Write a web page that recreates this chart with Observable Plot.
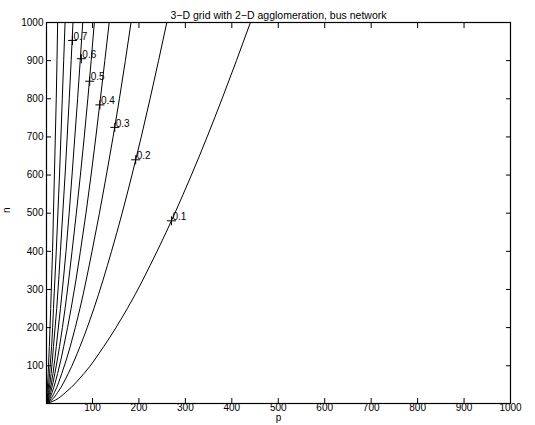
<!DOCTYPE html>
<html>
<head>
<meta charset="utf-8">
<script src="https://cdn.jsdelivr.net/npm/d3@7"></script>
<script src="https://cdn.jsdelivr.net/npm/@observablehq/plot@0.6"></script>
<style>
  html, body { margin: 0; padding: 0; background: #fff; }
  svg { display: block; }
</style>
</head>
<body>
<div id="chart"></div>
<script>
// contour levels
const levels = [0.1, 0.2, 0.3, 0.4, 0.5, 0.6, 0.7, 0.8, 0.9];
// n values at which the contour positions were read
const nValues = [1000, 800, 600, 400, 250, 150, 80, 30, 10, 0];
// p position of each contour at the n values above
const p01 = [440, 379, 313, 239, 175, 124, 82, 42, 20, 0];
const p02 = [260, 224, 185, 141, 103, 73, 48, 25, 12, 0];
const p03 = [183, 158, 130, 99, 73, 52, 34, 18, 8.5, 0];
const p04 = [136, 117, 97, 74, 54, 38, 25, 13, 6.3, 0];
const p05 = [104, 90, 74, 56, 41, 29, 19, 10, 4.8, 0];
const p06 = [79, 68, 56, 43, 31, 22, 15, 7.6, 3.7, 0];
const p07 = [58, 50, 41, 31, 23, 16, 11, 5.6, 2.7, 0];
const p08 = [41, 35, 29, 22, 16, 12, 7.6, 4.0, 1.9, 0];
const p09 = [25, 22, 18, 14, 10, 7.1, 4.6, 2.4, 1.2, 0];
const pSeries = [p01, p02, p03, p04, p05, p06, p07, p08, p09];

// contour labels (clabel) positions
const labelText = ["0.1", "0.2", "0.3", "0.4", "0.5", "0.6", "0.7"];
const labelP = [270, 193, 148, 116, 94, 76, 57];
const labelN = [480, 640, 725, 784, 846, 905, 953];

const xTicks = [100, 200, 300, 400, 500, 600, 700, 800, 900, 1000];
const yTicks = [100, 200, 300, 400, 500, 600, 700, 800, 900, 1000];

const title = "3\u2212D grid with 2\u2212D agglomeration, bus network";

const lineData = [];
levels.forEach((lv, i) => {
  nValues.forEach((n, j) => lineData.push({level: lv, p: pSeries[i][j], n}));
});
const labels = labelText.map((t, i) => ({t, p: labelP[i], n: labelN[i]}));

const font = "'Liberation Sans', Arial, Helvetica, sans-serif";
const fmt = d => String(d);

const chart = Plot.plot({
  width: 535,
  height: 425,
  marginLeft: 46,
  marginRight: 25,
  marginTop: 22,
  marginBottom: 22,
  style: {fontFamily: font, fontSize: "10px", background: "#fff", color: "#000"},
  x: {domain: [1, 1000]},
  y: {domain: [1, 1000]},
  marks: [
    Plot.line(lineData, {x: "p", y: "n", z: "level", stroke: "#000", strokeWidth: 1, curve: "monotone-y", clip: true}),
    Plot.dot(labels, {x: "p", y: "n", symbol: "plus", r: 3, stroke: "#000", strokeWidth: 1}),
    Plot.text(labels, {x: "p", y: "n", text: "t", textAnchor: "start", dx: 1, dy: -4, fontSize: 10, fill: "#000"}),
    Plot.frame({stroke: "#000", strokeWidth: 1.2}),
    Plot.axisX(xTicks, {anchor: "bottom", tickSize: -5, tickPadding: 5, fontSize: 10, tickFormat: fmt, label: null}),
    Plot.axisX(xTicks, {anchor: "top", tickSize: -5, tickFormat: () => "", label: null}),
    Plot.axisY(yTicks, {anchor: "left", tickSize: -5, tickPadding: 8, fontSize: 10, tickFormat: fmt, label: null}),
    Plot.axisY(yTicks, {anchor: "right", tickSize: -5, tickFormat: () => "", label: null}),
    Plot.text([title], {frameAnchor: "top", dy: -11, text: d => d, fontSize: 10.5, fill: "#000"}),
    Plot.text(["p"], {frameAnchor: "bottom", dy: 17, text: d => d, fontSize: 10, fill: "#000"}),
    Plot.text(["n"], {frameAnchor: "left", dx: -40, rotate: -90, text: d => d, fontSize: 10, fill: "#000"})
  ]
});
document.getElementById("chart").appendChild(chart);
</script>
</body>
</html>
